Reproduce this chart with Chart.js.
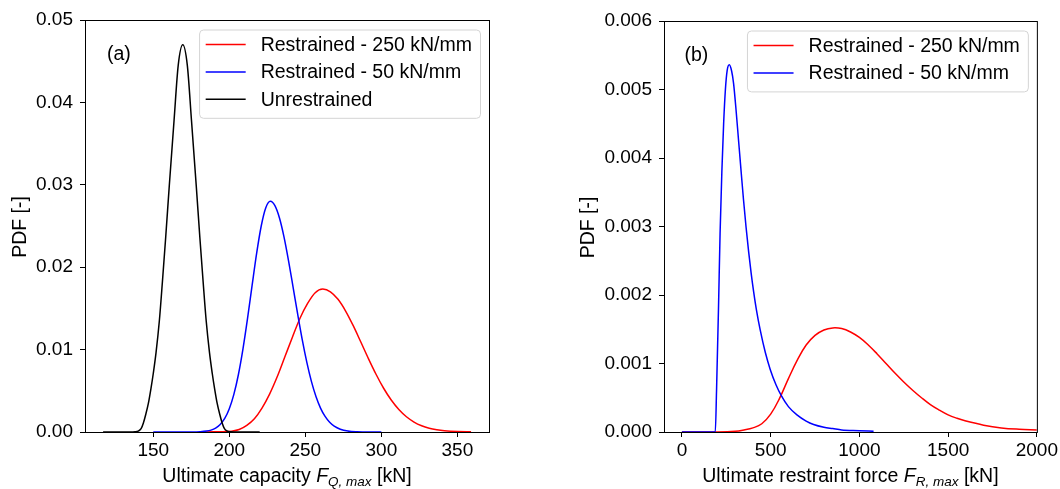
<!DOCTYPE html>
<html>
<head>
<meta charset="utf-8">
<script src="https://cdn.jsdelivr.net/npm/chart.js@4.4.1/dist/chart.umd.min.js"></script>
<style>
  html, body { margin: 0; padding: 0; background: #fff; }
  #wrap { position: relative; width: 1060px; height: 489px; }
  .panel { position: absolute; top: 0; width: 530px; height: 489px; }
</style>
</head>
<body>
<div id="wrap">
  <div class="panel" style="left:0"><canvas id="chart-a" width="530" height="489"></canvas></div>
  <div class="panel" style="left:530px"><canvas id="chart-b" width="530" height="489"></canvas></div>
</div>
<script>
const FONT = "'Liberation Sans', Arial, sans-serif";
const seriesNames = ['Restrained - 250 kN/mm', 'Restrained - 50 kN/mm', 'Unrestrained'];
const seriesColors = ['#ff0000', '#0000ff', '#000000'];

// (a) ultimate capacity
const capTicks = [150, 200, 250, 300, 350];
const capPdfTicks = [0, 0.01, 0.02, 0.03, 0.04, 0.05];
const cap250X = [180, 190, 196, 201.5, 206.5, 211.5, 216.5, 221.5, 226.5, 231.5, 236.5, 241.5, 246.5, 251.5, 256.5, 261.5, 266.5, 271.5, 276.5, 281.5, 286.5, 291.5, 296.5, 301.5, 306.5, 311.5, 316.5, 321.5, 326.5, 331.5, 336.5, 341.5, 350, 359];
const cap250Y = [0, 0.00002, 0.00004, 0.0001, 0.0003, 0.0008, 0.0016, 0.0029, 0.0046, 0.0067, 0.0091, 0.0115, 0.0138, 0.0156, 0.0169, 0.01734, 0.01702, 0.0161, 0.01468, 0.0129, 0.01092, 0.00891, 0.00701, 0.00531, 0.00388, 0.00273, 0.00185, 0.00121, 0.00076, 0.00046, 0.00027, 0.00015, 0.00005, 0.00002];
const cap50X = [150, 175, 181, 185, 188, 191, 194, 197, 200, 203, 206, 209, 212, 215, 218, 221, 224, 227, 230, 233, 236, 239, 242, 245, 248, 251, 254, 257, 260, 263, 266, 269, 273, 278, 284, 292, 300];
const cap50Y = [0, 0.00001, 0.00004, 0.00011, 0.00023, 0.00047, 0.00091, 0.00164, 0.00282, 0.00456, 0.00698, 0.01009, 0.01378, 0.01779, 0.0217, 0.0250, 0.02722, 0.0280, 0.02748, 0.02598, 0.02366, 0.02075, 0.01753, 0.01427, 0.01118, 0.00845, 0.00614, 0.0043, 0.0029, 0.00189, 0.00118, 0.00071, 0.00034, 0.00012, 0.00003, 0, 0];
const capFreeX = [117, 135, 138, 140, 142, 143.5, 145, 146.8, 148.5, 150, 151.8, 154, 156, 158.2, 160.5, 163.7, 166.4, 169.4, 172.4, 175.1, 178.3, 180.6, 182.8, 184.8, 187, 188.8, 190.3, 192, 193.8, 195.3, 196.8, 198.8, 201, 205, 220];
const capFreeY = [0, 0, 0.00003, 0.0001, 0.0004, 0.0011, 0.0021, 0.0035, 0.0053, 0.0071, 0.0096, 0.0135, 0.0182, 0.0237, 0.0298, 0.0379, 0.0445, 0.0470, 0.0445, 0.0379, 0.0298, 0.0237, 0.0182, 0.0135, 0.0096, 0.0071, 0.0053, 0.0035, 0.0021, 0.0011, 0.0004, 0.0001, 0.00003, 0, 0];

// (b) ultimate restraint force
const forceTicks = [0, 500, 1000, 1500, 2000];
const forcePdfTicks = [0, 0.001, 0.002, 0.003, 0.004, 0.005, 0.006];
const force250X = [0, 200, 300, 350, 400, 450, 500, 550, 600, 650, 700, 750, 800, 850, 900, 950, 1000, 1050, 1100, 1150, 1200, 1250, 1300, 1350, 1400, 1450, 1500, 1550, 1600, 1700, 1800, 1900, 2000];
const force250Y = [0, 0, 0.00001, 0.00003, 0.00006, 0.00012, 0.00026, 0.00049, 0.00078, 0.00105, 0.00127, 0.00141, 0.00149, 0.00152, 0.00151, 0.00146, 0.00138, 0.00127, 0.00114, 0.001, 0.00086, 0.00073, 0.00061, 0.0005, 0.0004, 0.00032, 0.00025, 0.0002, 0.00016, 0.0001, 0.00006, 0.00004, 0.00003];
const force50X = [0, 100, 188, 195, 206, 215, 225, 235, 245, 255, 267, 280, 291, 305, 319, 333, 347, 361, 376, 390, 404, 420, 441, 470, 498, 530, 560, 600, 648, 700, 742, 800, 850, 900, 1000, 1080];
const force50Y = [0, 0, 0, 0.0006, 0.0018, 0.0029, 0.0038, 0.0045, 0.0050, 0.00528, 0.00536, 0.00527, 0.00509, 0.0047, 0.00426, 0.00382, 0.00339, 0.003, 0.00263, 0.00232, 0.00205, 0.00178, 0.00149, 0.00116, 0.00091, 0.00069, 0.00053, 0.00037, 0.00025, 0.00016, 0.00011, 0.00007, 0.00005, 0.00003, 0.00002, 0.00001];

const toPoints = (xs, ys) => xs.map((x, i) => ({ x: x, y: ys[i] }));

const makeDataset = (idx, xs, ys, smooth) => ({
    label: seriesNames[idx],
    data: toPoints(xs, ys),
    borderColor: seriesColors[idx],
    backgroundColor: seriesColors[idx],
    borderWidth: 1.5,
    pointRadius: 0,
    fill: false,
    cubicInterpolationMode: smooth ? 'default' : 'monotone',
    tension: 0.4,
    order: 3 - idx
});

const TEXT = '19.5px ' + FONT;

// frame, legend box, panel tag and axis titles (matplotlib look)
const panelDecor = {
    id: 'panelDecor',
    afterDraw(chart, args, o) {
        const { ctx, chartArea: a } = chart;
        ctx.save();
        ctx.strokeStyle = '#000';
        ctx.lineWidth = 1;
        ctx.strokeRect(a.left + 0.5, a.top + 0.5, a.right - a.left, a.bottom - a.top);

        ctx.fillStyle = '#000';
        ctx.font = TEXT;
        ctx.textBaseline = 'middle';
        ctx.textAlign = 'left';
        ctx.fillText(o.tag, a.left + o.tagDx, a.top + 35);

        // legend
        const sets = chart.data.datasets;
        let textW = 0;
        sets.forEach(d => { textW = Math.max(textW, ctx.measureText(d.label).width); });
        const boxR = a.right - 9;
        const boxL = boxR - (61.6 + textW + 8);
        const boxT = a.top + 9.5;
        const boxH = 15 + 27.4 * (sets.length - 1) + 18.5;
        ctx.beginPath();
        ctx.roundRect(boxL + 0.5, boxT + 0.5, boxR - boxL, boxH, 4);
        ctx.fillStyle = 'rgba(255,255,255,0.85)';
        ctx.fill();
        ctx.strokeStyle = '#d4d4d4';
        ctx.stroke();
        sets.forEach((d, i) => {
            const y = boxT + 15 + 27.4 * i;
            ctx.strokeStyle = d.borderColor;
            ctx.lineWidth = 1.5;
            ctx.beginPath();
            ctx.moveTo(boxL + 6.6, y);
            ctx.lineTo(boxL + 46.6, y);
            ctx.stroke();
            ctx.fillStyle = '#000';
            ctx.fillText(d.label, boxL + 61.6, y + 1);
        });

        // x title with italic subscript
        const parts = [
            { text: o.xTitle, font: TEXT },
            { text: 'F', font: 'italic ' + TEXT },
            { text: o.xSub, font: 'italic 13.5px ' + FONT, dy: 4 },
            { text: ' [kN]', font: TEXT }
        ];
        let total = 0;
        parts.forEach(p => { ctx.font = p.font; p.w = ctx.measureText(p.text).width; total += p.w; });
        let x = (a.left + a.right) / 2 - total / 2;
        ctx.textBaseline = 'alphabetic';
        ctx.fillStyle = '#000';
        parts.forEach(p => { ctx.font = p.font; ctx.fillText(p.text, x, a.bottom + 50 + (p.dy || 0)); x += p.w; });

        // y title
        ctx.translate(o.yTitleX, (a.top + a.bottom) / 2 + 1);
        ctx.rotate(-Math.PI / 2);
        ctx.font = TEXT;
        ctx.textAlign = 'center';
        ctx.textBaseline = 'middle';
        ctx.fillText('PDF [-]', 0, 0);
        ctx.restore();
    }
};

const buildChart = (elname, datasets, sc, decor) => {
    const ctx = document.getElementById(elname);
    const tickFont = { family: FONT, size: 19 };
    return new Chart(ctx, {
        type: 'line',
        data: { datasets: datasets },
        plugins: [panelDecor],
        options: {
            responsive: false,
            animation: false,
            devicePixelRatio: 1,
            layout: { padding: { top: sc.top, right: sc.right, left: 0, bottom: 0 } },
            scales: {
                x: {
                    type: 'linear',
                    min: sc.xMin,
                    max: sc.xMax,
                    afterBuildTicks: s => { s.ticks = sc.xTicks.map(v => ({ value: v })); },
                    afterFit: s => { s.height = 57; },
                    ticks: { font: tickFont, color: '#000', padding: 2, maxRotation: 0, autoSkip: false, callback: v => String(v) },
                    grid: { drawOnChartArea: false, drawTicks: true, tickLength: 5, tickColor: '#000' },
                    border: { color: '#000', width: 1 }
                },
                y: {
                    type: 'linear',
                    min: 0,
                    max: sc.yMax,
                    afterBuildTicks: s => { s.ticks = sc.yTicks.map(v => ({ value: v })); },
                    afterFit: s => { s.width = sc.yWidth; },
                    ticks: { font: tickFont, color: '#000', padding: 7, autoSkip: false, callback: v => v.toFixed(sc.yDigits) },
                    grid: { drawOnChartArea: false, drawTicks: true, tickLength: 5, tickColor: '#000' },
                    border: { color: '#000', width: 1 }
                }
            },
            plugins: {
                legend: { display: false },
                tooltip: { enabled: false },
                panelDecor: decor
            }
        }
    });
};

buildChart('chart-a', [
    makeDataset(0, cap250X, cap250Y),
    makeDataset(1, cap50X, cap50Y),
    makeDataset(2, capFreeX, capFreeY)
], { xMin: 105.1, xMax: 370.8, xTicks: capTicks, yMax: 0.05, yTicks: capPdfTicks, yDigits: 2, yWidth: 85, top: 20, right: 41 },
   { tag: '(a)', tagDx: 22, xTitle: 'Ultimate capacity ', xSub: 'Q, max', yTitleX: 21 });

buildChart('chart-b', [
    makeDataset(0, force250X, force250Y, true),
    makeDataset(1, force50X, force50Y)
], { xMin: -101, xMax: 2000, xTicks: forceTicks, yMax: 0.006, yTicks: forcePdfTicks, yDigits: 3, yWidth: 134, top: 21, right: 22.3 },
   { tag: '(b)', tagDx: 20.5, xTitle: 'Ultimate restraint force ', xSub: 'R, max', yTitleX: 59 });
</script>
</body>
</html>
